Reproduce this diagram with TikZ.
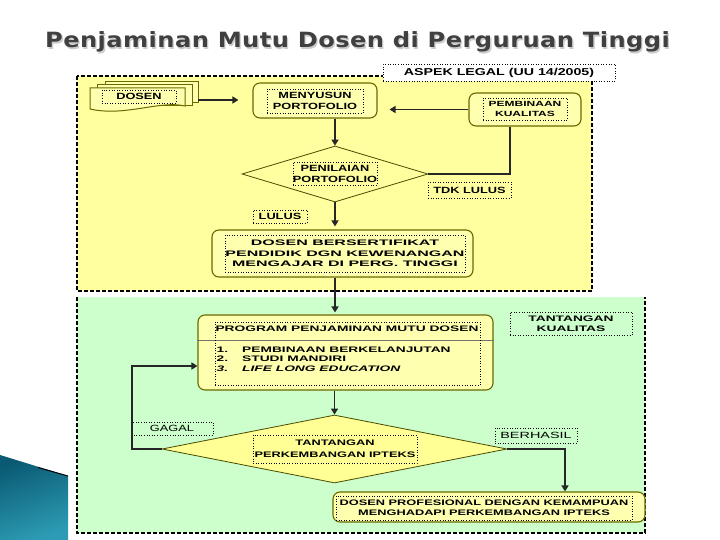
\documentclass[tikz,border=0pt]{standalone}
\usepackage{fontspec}
\setmainfont{Liberation Sans}
\newfontfamily\titlefont[FakeStretch=1.15,LetterSpace=2]{DejaVu Sans}
\newfontfamily\fa[FakeStretch=1.42]{Liberation Sans}
\newfontfamily\fb[FakeStretch=1.6]{Liberation Sans}
\newfontfamily\fc[FakeStretch=1.72]{Liberation Sans}
\newfontfamily\fd[FakeStretch=2.0]{Liberation Sans}
\usetikzlibrary{shapes.geometric,arrows.meta}
\definecolor{yelbg}{RGB}{255,255,160}
\definecolor{grnbg}{RGB}{204,255,204}
\definecolor{boxfill}{RGB}{255,255,176}
\definecolor{diafill}{RGB}{255,255,150}
\definecolor{boxedge}{RGB}{105,105,0}
\definecolor{titlegray}{RGB}{64,64,64}
\definecolor{tealdark}{RGB}{10,90,115}
\definecolor{teallight}{RGB}{45,155,180}
\tikzset{
  rbox/.style={draw=boxedge, line width=1.1pt, fill=boxfill, rounded corners=7pt, inner sep=0pt},
  lbl/.style={draw=black, dotted, line width=0.6pt, inner sep=0pt, align=center},
  conn/.style={line width=1.8pt, draw=black!85},
  arr/.style={conn, -{Triangle[length=6pt,width=7pt]}},
  dia/.style={diamond, draw=boxedge!70!black, line width=0.8pt, inner sep=0pt},
  zone/.style={line width=1.2pt, dashed, dash pattern=on 4pt off 2pt},
}
\begin{document}
\begin{tikzpicture}[x=1pt,y=-1pt]
\useasboundingbox (0,0) rectangle (720,540);
\fill[white] (0,0) rectangle (720,540);

% title
\node[anchor=base west, inner sep=0, text=black!20, font=\titlefont\bfseries\fontsize{21}{25}\selectfont] (titleshadow) at (46.3,49.3) {Penjaminan Mutu Dosen di Perguruan Tinggi};
\node[anchor=base west, inner sep=0, text=titlegray, font=\titlefont\bfseries\fontsize{21}{25}\selectfont] (title) at (45,48) {Penjaminan Mutu Dosen di Perguruan Tinggi};

% zones
\fill[yelbg] (77,76) rectangle (592,291);
\draw[zone] (77,76) rectangle (592,291);
\fill[grnbg] (77,297) rectangle (645,533);
\draw[zone] (77,297) -- (77,533) -- (645,533) -- (645,297);

% decoration
\shade[top color=tealdark, bottom color=teallight, shading angle=20] (0,455) -- (68,476) -- (68,540) -- (0,540) -- cycle;
\draw[line width=1pt, black] (38,467.5) -- (68,476);

% ASPEK LEGAL
\node[lbl, fill=white, minimum width=232pt, minimum height=17pt, font=\fa\bfseries\fontsize{10}{11}\selectfont] (aspek) at (499,72.5) {ASPEK LEGAL (UU 14/2005)};

% DOSEN document stack
\draw[fill=boxfill, draw=boxedge, line width=1pt] (105,82) rectangle (198,103);
\draw[fill=boxfill, draw=boxedge, line width=1pt] (97,85) rectangle (192,106);
\draw[fill=boxfill, draw=boxedge, line width=1pt] (90,88) -- (185,88) -- (185,106) .. controls (160,100) and (125,117) .. (90,109) -- cycle;
\node[lbl, minimum width=74pt, minimum height=13pt, font=\fa\bfseries\fontsize{9}{10}\selectfont] (dosen) at (139,96.5) {DOSEN};
\coordinate (dosenR) at (198,100);

% MENYUSUN
\node[rbox, minimum width=124pt, minimum height=35pt] (menyusun) at (315,100.5) {};
\node[lbl, minimum width=96pt, minimum height=24pt, font=\fa\bfseries\fontsize{9}{11}\selectfont] (menyusunT) at (315,101) {MENYUSUN\\PORTOFOLIO};

% PEMBINAAN
\node[rbox, minimum width=112pt, minimum height=33pt] (pembinaan) at (525,109.5) {};
\node[lbl, minimum width=84pt, minimum height=22pt, font=\fb\bfseries\fontsize{7.5}{10}\selectfont] (pembinaanT) at (525,109) {PEMBINAAN\\KUALITAS};

% diamond 1
\node[dia, fill=yelbg, minimum width=186pt, minimum height=56pt] (dia1) at (335,174) {};
\node[lbl, minimum width=84pt, minimum height=23pt, font=\fa\bfseries\fontsize{9}{11}\selectfont] (dia1T) at (335,173.5) {PENILAIAN\\PORTOFOLIO};

\node[lbl, minimum width=83pt, minimum height=16pt, font=\fa\bfseries\fontsize{9}{10}\selectfont] (tdk) at (469.5,190) {TDK LULUS};
\node[lbl, minimum width=54pt, minimum height=13pt, font=\fa\bfseries\fontsize{9}{10}\selectfont] (lulus) at (280,216.5) {LULUS};

% DOSEN BERSERTIFIKAT
\node[rbox, minimum width=261pt, minimum height=47pt] (bersert) at (342.5,253.5) {};
\node[lbl, minimum width=240pt, minimum height=37pt, font=\fd\bfseries\fontsize{8}{10.5}\selectfont] (bersertT) at (345,253.5) {DOSEN BERSERTIFIKAT\\PENDIDIK DGN KEWENANGAN\\MENGAJAR DI PERG. TINGGI};

% PROGRAM
\node[rbox, minimum width=295pt, minimum height=75pt] (program) at (345.5,352.5) {};
\draw[line width=0.6pt, black!55] (program.west |- 0,340) -- (program.east |- 0,340);
\node[lbl, minimum width=265pt, minimum height=63pt] (programT) at (347.5,353.5) {};
\node[inner sep=0, font=\fc\bfseries\fontsize{8}{10}\selectfont] (hdr) at (347,329) {PROGRAM PENJAMINAN MUTU DOSEN};
\node[anchor=west, inner sep=0, align=left, font=\fc\bfseries\fontsize{8}{9.6}\selectfont] (list) at (216.5,360) {%
\begin{tabular}{@{}p{25.5pt}@{}l@{}}
1. & PEMBINAAN BERKELANJUTAN\\
2. & STUDI MANDIRI\\
\textit{3.} & \textit{LIFE LONG EDUCATION}
\end{tabular}};

\node[lbl, minimum width=122pt, minimum height=23pt, font=\fc\bfseries\fontsize{8}{10}\selectfont] (tankual) at (571,323.5) {TANTANGAN\\KUALITAS};

% diamond 2
\node[dia, fill=diafill, minimum width=345pt, minimum height=68pt] (dia2) at (334.5,449) {};
\node[lbl, minimum width=164pt, minimum height=28pt, font=\fb\bfseries\fontsize{8}{12}\selectfont] (dia2T) at (335,449) {TANTANGAN\\PERKEMBANGAN IPTEKS};

\node[lbl, minimum width=82pt, minimum height=13pt, font=\fa\fontsize{9}{10}\selectfont] (gagal) at (172,428.5) {GAGAL};
\node[lbl, minimum width=82pt, minimum height=15pt, font=\fb\fontsize{9}{10}\selectfont] (berhasil) at (536,435.5) {BERHASIL};

% PROFESIONAL
\node[rbox, minimum width=312pt, minimum height=30pt] (prof) at (489,507) {};
\node[lbl, minimum width=296pt, minimum height=24pt, font=\fb\bfseries\fontsize{8}{10}\selectfont] (profT) at (484,508) {DOSEN PROFESIONAL DENGAN KEMAMPUAN\\MENGHADAPI PERKEMBANGAN IPTEKS};

\coordinate (loopc) at (132,366);

% connectors
\draw[arr, shorten >=14pt] (dosenR) -- (menyusun.west |- dosenR);
\draw[arr, shorten >=12pt] (pembinaan.west) -- (menyusun.east |- pembinaan.west);
\draw[arr] (menyusun.south -| dia1.north) -- (dia1.north);
\draw[conn] ([xshift=-15pt]pembinaan.south) |- (dia1.east);
\draw[arr, shorten >=3pt] (dia1.south) -- (dia1.south |- bersert.north);
\draw[arr, shorten >=2pt] (bersert.south -| dia1.south) -- (program.north -| dia1.south);
\draw[arr] (program.south -| dia2.north) -- (dia2.north);
\draw[arr] (dia2.west) -| (loopc) -- (program.west |- loopc);
\draw[arr] (dia2.east) -| ([xshift=76pt]prof.north);
\end{tikzpicture}
\end{document}
